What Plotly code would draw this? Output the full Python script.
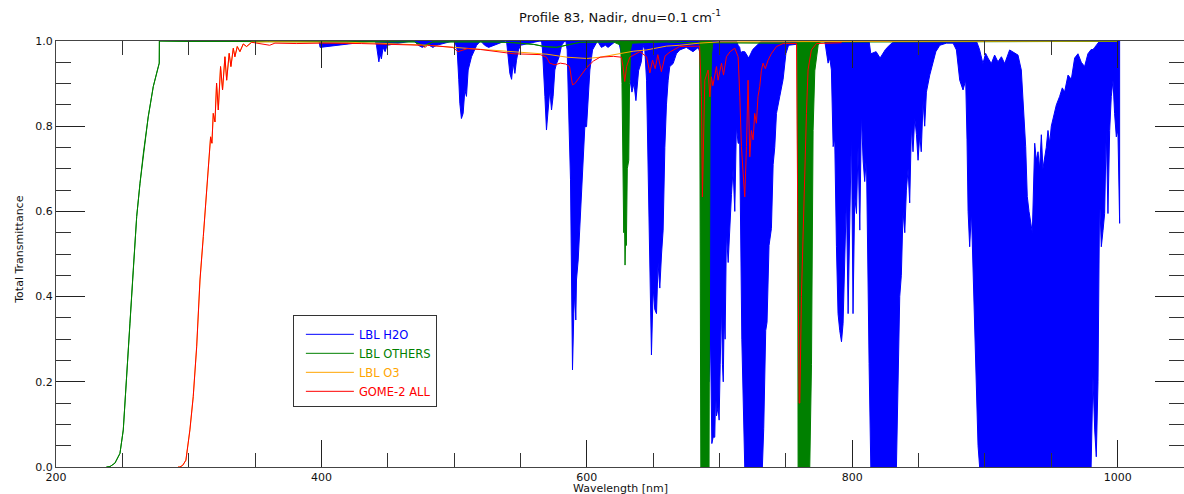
import plotly.graph_objects as go

# ---------------- data ----------------
# LBL H2O : dense line spectrum given as lower / upper envelope of transmittance
h2o_wl = [385, 397.5, 398.2, 399, 439, 440.5, 441.5, 442.5, 443.3, 444.2, 445.2, 446.5, 448, 449.5,
          468, 470, 473, 476, 480, 484, 487, 499, 500.5, 502.3, 503.5, 504.3, 505.5, 506.8, 508.1,
          509.3, 510.6, 513.1, 515.6, 517, 520, 523, 526, 529, 538.5, 539.5, 540.7, 542, 543.3,
          544.5, 545.8, 547, 548.5, 550, 564.5, 565.9, 566.6, 567.6, 568.4, 569.6, 570.9, 572.1,
          573.4, 574.6, 575.9, 577.2, 579.2, 581, 583.5, 584.2, 585.2, 586, 586.7, 587.7, 588.5,
          589.2, 590.2, 591, 591.7, 592.2, 593.5, 594.7, 596, 597.2, 598.5, 599.8, 601, 602.3,
          604.3, 606, 608, 611, 614, 616, 622, 624, 626, 628, 630, 632, 634, 635.5, 637, 639, 641,
          642.4, 643.7, 645, 646.2, 647, 647.8, 648.7, 650, 651.2, 652.5, 653.7, 655, 656.3, 657.5,
          658.8, 660, 661.3, 662.5, 665, 667.5, 670, 675, 680, 684, 685.5, 686.5, 689, 692, 693.2,
          694.2, 695.2, 696.4, 697.1, 697.7, 698.9, 699.7, 700.5, 701.5, 702.2, 702.8, 703.5, 704.2,
          705.2, 706.5, 707.7, 709, 710.2, 711.5, 712.7, 714, 715.2, 716, 716.8, 719, 722, 725, 728,
          731.6, 732.3, 733.3, 734.8, 735.8, 737.3, 739.1, 740.4, 741.6, 742.9, 745.4, 747.9, 750,
          752, 778, 779.3, 781.8, 783.1, 784.3, 785.6, 786.8, 788.1, 789.3, 790.6, 791.9, 793.1,
          794.4, 795.6, 796.9, 798.1, 799.4, 800.6, 801.9, 803.2, 804.4, 805.7, 806.9, 808.2, 809.4,
          810.7, 812, 812.7, 814, 818, 821, 825, 828, 832, 833.3, 834.5, 835.8, 837, 838.3, 839.6,
          840.8, 842.1, 843.3, 844.6, 845.8, 847.1, 848.4, 849.6, 850.9, 852, 853.4, 854.6, 855.9,
          858.4, 860.9, 863, 866, 871, 876, 878.5, 881, 883.5, 885.5, 886.5, 887.3, 888.5, 889.8,
          891, 892.3, 893.5, 894.8, 896, 898.5, 900.5, 902.3, 904.8, 907.3, 909.8, 912.4, 914.9,
          918.6, 922.4, 924.9, 927.4, 929.2, 930.7, 931.9, 933.2, 935.7, 937.5, 938.7, 940, 941.2,
          942.5, 943.7, 946.2, 947.5, 948.8, 950, 951.3, 953.8, 956.3, 958.3, 960, 962.6, 965.1,
          967.6, 970.1, 972.6, 975.1, 977.6, 980, 981.4, 982.7, 983.9, 985.2, 986.4, 987.7, 989,
          990.2, 991.4, 992.7, 994, 995.2, 996.5, 997.7, 999, 1000.2, 1001.5]
h2o_lo = [1, 1, 0.985, 1, 1, 0.99, 0.975, 0.951, 0.97, 0.958, 0.985, 0.975, 0.99, 1,
          1, 0.99, 0.985, 0.992, 0.985, 0.99, 1, 1, 0.979, 0.909, 0.854, 0.818, 0.83, 0.885, 0.87,
          0.932, 0.963, 0.979, 0.99, 1, 0.99, 0.985, 0.99, 1, 1, 0.96, 0.924, 0.91, 0.947,
          0.924, 0.955, 0.979, 0.99, 1, 1, 0.979, 0.924, 0.87, 0.791, 0.83, 0.885, 0.838,
          0.87, 0.932, 0.947, 0.963, 0.99, 1, 1, 0.979, 0.869, 0.791, 0.674, 0.478, 0.228,
          0.361, 0.416, 0.345, 0.439, 0.486, 0.556, 0.635, 0.713, 0.799, 0.799, 0.869, 0.932, 0.979,
          0.99, 1, 0.985, 0.99, 0.985, 1, 1, 0.97, 0.93, 0.9, 0.92, 0.88, 0.9, 0.86, 0.93, 0.95, 0.99,
          0.979, 0.908, 0.75, 0.55, 0.42, 0.263, 0.42, 0.37, 0.36, 0.478, 0.42, 0.5, 0.556, 0.75,
          0.85, 0.908, 0.94, 0.947, 0.97, 0.979, 0.985, 0.975, 0.985, 0.97, 0.5, 0.3, 0.2, 0.3, 0.055,
          0.07, 0.07, 0.18, 0.12, 0.14, 0.11, 0.24, 0.38, 0.24, 0.2, 0.36, 0.3, 0.55,
          0.48, 0.55, 0.64, 0.7, 0.6, 0.8, 0.76, 0.76, 0.62, 0.3, 0.0, 0.0, 0.0, 0.0, 0.0,
          0.0, 0.09, 0.32, 0.34, 0.52, 0.56, 0.71, 0.75, 0.83, 0.87, 0.91, 0.97, 0.99,
          1, 1, 0.948, 0.96, 0.932, 0.752, 0.77, 0.517, 0.36, 0.32, 0.294, 0.337, 0.478,
          0.635, 0.36, 0.556, 0.791, 0.36, 0.635, 0.595, 0.752, 0.556, 0.83, 0.72, 0.67, 0.73,
          0.423, 0.243, 0.0, 0.0, 0.0, 0.0, 0.0, 0.0, 0.0, 0.165, 0.4, 0.45, 0.6, 0.55, 0.65,
          0.7, 0.62, 0.8, 0.74, 0.82, 0.78, 0.72, 0.78, 0.74, 0.86, 0.8, 0.88, 0.92,
          0.95, 0.975, 0.99, 0.995, 0.995, 0.979, 0.908, 0.885, 0.908, 0.768, 0.6, 0.517, 0.6, 0.45,
          0.32, 0.2, 0.05, 0.0, 0.0, 0.0, 0.0, 0.0, 0.0, 0.0, 0.0, 0.0, 0.0,
          0.0, 0.0, 0.0, 0.0, 0.0, 0.0, 0.0, 0.0, 0.0, 0.0, 0.0, 0.0, 0.0,
          0.0, 0.0, 0.0, 0.0, 0.0, 0.0, 0.0, 0.0, 0.0, 0.0, 0.0, 0.0,
          0.0, 0.0, 0.0, 0.0, 0.0, 0.0, 0.212, 0.087, 0.024, 0.2, 0.635, 0.517, 0.556,
          0.595, 0.791, 0.595, 0.79, 0.87, 0.908, 0.83, 0.775, 0.79, 0.572]
h2o_hi = [1, 1, 1, 1, 1, 1, 1, 1, 1, 1, 1, 1, 1, 1,
          1, 1, 1, 1, 1, 1, 1, 1, 1, 1, 1, 1, 1, 1, 1,
          1, 1, 1, 1, 1, 1, 1, 1, 1, 1, 1, 1, 1, 1,
          1, 1, 1, 1, 1, 1, 1, 1, 1, 1, 1, 1, 1,
          1, 1, 1, 1, 1, 1, 1, 1, 1, 1, 1, 1, 1,
          1, 1, 1, 1, 1, 1, 1, 1, 1, 1, 1, 1, 1,
          1, 1, 1, 1, 1, 1, 1, 1, 1, 1, 1, 1, 1, 1, 1, 1, 1,
          1, 1, 1, 1, 1, 1, 1, 1, 1, 1, 1, 1, 1, 1,
          1, 1, 1, 1, 1, 1, 1, 1, 1, 1, 1, 1, 1, 1, 1,
          1, 1, 1, 1, 1, 1, 1, 1, 1, 1, 1, 1, 1,
          1, 1, 1, 1, 1, 1, 1, 0.99, 0.985, 0.97, 0.975, 0.975, 0.96, 0.98, 0.99,
          1, 1, 1, 1, 1, 1, 1, 1, 1, 1, 1, 1, 1,
          1, 1, 1, 1, 1, 1, 1, 1, 1, 1, 1, 1, 1,
          1, 1, 1, 1, 1, 1, 1, 1, 1, 1, 1, 1, 1,
          1, 1, 1, 0.97, 0.975, 0.96, 0.98, 0.99, 1, 1, 1, 1, 1, 1, 1,
          1, 1, 1, 1, 1, 1, 1, 1, 1, 1, 1, 1, 1,
          1, 1, 1, 1, 1, 1, 1, 1, 1, 1, 1, 1, 1, 1,
          1, 1, 1, 0.99, 0.979, 0.947, 0.971, 0.96, 0.947, 0.967, 0.951, 0.963, 0.947,
          0.979, 0.971, 0.967, 0.932, 0.83, 0.752, 0.635, 0.6, 0.55, 0.76, 0.72, 0.74, 0.7,
          0.78, 0.7, 0.75, 0.79, 0.76, 0.8, 0.82, 0.85, 0.87, 0.89, 0.88, 0.92, 0.91,
          0.96, 0.97, 0.95, 0.94, 0.97, 0.98, 0.98, 0.985, 0.99, 0.995, 1, 1, 1,
          1, 1, 1, 1, 1, 1, 1, 1, 1, 1]

# LBL OTHERS (O2, O4, ...): envelope as well (a plain line where lo == hi)
oth_wl = [238, 240.7, 244.4, 248.2, 250.7, 253.3, 255.7, 258.2, 260.8, 263.3, 265.8, 269.5,
          273.3, 277.1, 277.8, 277.9, 300, 470, 474, 477.3, 480, 484, 530, 545, 560, 568, 577,
          585, 595, 620, 625.5, 626.5, 627, 627.8, 628.3, 628.8, 629.3, 629.8, 630.5, 631.6, 632.2,
          633, 634, 660, 685, 685.5, 685.9, 692.1, 692.8, 694, 695, 758.5, 758.9, 759.2, 768,
          769.3, 770, 770.5, 771.8, 774.3, 776, 1000]
oth_lo = [0, 0.001, 0.009, 0.032, 0.087, 0.204, 0.337, 0.462, 0.588, 0.666, 0.736, 0.822,
          0.893, 0.94, 0.948, 1.0, 0.999, 0.998, 0.993, 0.988, 0.993, 0.998, 0.998, 0.996, 0.992, 0.987, 0.985,
          0.99, 0.997, 0.998, 0.99, 0.9, 0.72, 0.55, 0.6, 0.474, 0.55, 0.52, 0.7, 0.72, 0.9,
          0.98, 0.995, 0.998, 0.995, 0.9, 0.0, 0.0, 0.8, 0.97, 0.996, 0.995, 0.6, 0.0, 0.0,
          0.24, 0.56, 0.79, 0.93, 0.99, 0.998, 0.999]
oth_hi = [0, 0.001, 0.009, 0.032, 0.087, 0.204, 0.337, 0.462, 0.588, 0.666, 0.736, 0.822,
          0.893, 0.94, 0.948, 1.0, 0.999, 0.998, 0.993, 0.988, 0.993, 0.998, 0.998, 0.996, 0.992, 0.987, 0.985,
          0.99, 0.997, 0.998, 1, 1, 1, 1, 1, 1, 1, 1, 1, 1, 1,
          1, 0.999, 0.998, 0.995, 1, 1, 1, 1, 1, 0.996, 0.995, 1, 1, 1,
          1, 1, 1, 1, 1, 0.998, 0.999]

# LBL O3
o3_wl = [292, 293.4, 295.5, 297.9, 300.9, 303.4, 306.0, 308.5, 311.0, 313.0, 314.7, 316.5,
         317.5, 318.5, 319.8, 321.0, 322.3, 324.0, 325.5, 327.3, 328.6, 330.5, 331.8, 333.6,
         334.8, 336.6, 338.6, 341.1, 343.6, 347.4, 360, 380, 420, 450, 480, 500, 520, 545, 570,
         585, 600, 610, 620, 635, 645, 660, 670, 685, 700, 750, 800, 1000]
o3_t = [0, 0.0, 0.004, 0.016, 0.087, 0.165, 0.282, 0.439, 0.541, 0.619, 0.697, 0.775,
        0.76, 0.83, 0.81, 0.901, 0.838, 0.94, 0.885, 0.963, 0.908, 0.971, 0.94, 0.983,
        0.963, 0.987, 0.975, 0.993, 0.987, 0.997, 0.998, 0.998, 0.997, 0.994, 0.99, 0.985, 0.98,
        0.975, 0.969, 0.962, 0.959, 0.962, 0.968, 0.976, 0.979, 0.988, 0.99, 0.995, 0.998,
        0.999, 0.999, 1.0]

# GOME-2 ALL
gome_wl = [292, 293.4, 295.5, 297.9, 300.9, 303.4, 306.0, 308.5, 311.0, 313.0, 314.7, 316.5,
           317.5, 318.5, 319.8, 321.0, 322.3, 324.0, 325.5, 327.3, 328.6, 330.5, 331.8, 333.6,
           334.8, 336.6, 338.6, 341.1, 343.6, 347.4, 361, 365, 381, 400, 430, 444, 470, 476, 478,
           480, 499, 503, 506, 510, 520, 532, 540, 545, 565, 569.6, 572, 576, 580, 584, 587, 589.2,
           591, 594.7, 600, 605, 610, 620, 626, 627.3, 628.6, 630, 632.4, 640, 645, 647.5, 649.5,
           651.5, 653.5, 656.2, 659, 663, 670, 685, 686.4, 687.1, 688.1, 688.9, 691.4, 692.7, 693.9,
           695, 697.7, 698.9, 701.5, 703, 705.2, 708, 711.5, 714, 715.3, 716.5, 717.8, 719, 720.3,
           721.5, 722.8, 724, 725.3, 726.5, 727.8, 729, 730.3, 731.5, 732.8, 734.5, 736.6, 739,
           742.9, 747.9, 758, 758.4, 759.2, 760, 760.5, 761.7, 763, 764.2, 765.5, 766.7, 769.2,
           773, 792]
gome_t = [0, 0.0, 0.004, 0.016, 0.087, 0.165, 0.282, 0.439, 0.541, 0.619, 0.697, 0.775,
          0.76, 0.83, 0.81, 0.901, 0.838, 0.94, 0.885, 0.963, 0.908, 0.971, 0.94, 0.983,
          0.963, 0.987, 0.975, 0.993, 0.987, 0.997, 0.99, 0.995, 0.994, 0.995, 0.994, 0.993, 0.992, 0.99, 0.985,
          0.99, 0.985, 0.975, 0.978, 0.982, 0.98, 0.975, 0.972, 0.97, 0.968, 0.962, 0.948, 0.944, 0.948, 0.946, 0.94, 0.897,
          0.9, 0.915, 0.938, 0.953, 0.962, 0.964, 0.962, 0.94, 0.905, 0.94, 0.962, 0.975, 0.963, 0.925, 0.955,
          0.935, 0.968, 0.928, 0.965, 0.975, 0.987, 0.988, 0.869, 0.634, 0.791, 0.908, 0.932, 0.869, 0.916,
          0.895, 0.94, 0.908, 0.948, 0.92, 0.963, 0.975, 0.983, 0.963, 0.869, 0.752, 0.689, 0.634, 0.752,
          0.908, 0.728, 0.79, 0.768, 0.83, 0.807, 0.87, 0.893, 0.93, 0.948, 0.935, 0.955, 0.97,
          0.987, 0.994, 0.994, 0.752, 0.478, 0.15, 0.15, 0.4, 0.556, 0.713, 0.83, 0.932, 0.979,
          0.994, 0.996]

series_names = ["LBL H2O", "LBL OTHERS", "LBL O3", "GOME-2 ALL"]
series_colors = ["#0000ff", "#008000", "#ffa500", "#ff0000"]

x_ticks = [200, 400, 600, 800, 1000]
y_ticks = [0.0, 0.2, 0.4, 0.6, 0.8, 1.0]

# ---------------- figure ----------------
fig = go.Figure()


def label(i):
    return '<span style="color:%s">%s</span>' % (series_colors[i], series_names[i])


# legend entries for the two envelope-drawn series
for i in (0, 1):
    fig.add_trace(go.Scatter(x=[None], y=[None], mode="lines", name=label(i),
                             line=dict(color=series_colors[i], width=1)))

# envelopes (dense line spectra)
for wl, lo, hi, i in ((h2o_wl, h2o_lo, h2o_hi, 0), (oth_wl, oth_lo, oth_hi, 1)):
    fig.add_trace(go.Scatter(x=wl + wl[::-1], y=hi + lo[::-1], mode="lines", fill="toself",
                             fillcolor=series_colors[i],
                             line=dict(color=series_colors[i], width=1),
                             showlegend=False, hoverinfo="skip"))

fig.add_trace(go.Scatter(x=o3_wl, y=o3_t, mode="lines", name=label(2),
                         line=dict(color=series_colors[2], width=1)))
fig.add_trace(go.Scatter(x=gome_wl, y=gome_t, mode="lines", name=label(3),
                         line=dict(color=series_colors[3], width=1)))

axis_common = dict(showgrid=False, zeroline=False, showline=True, linecolor="#444",
                   linewidth=1, mirror="ticks", ticks="inside", tickwidth=1,
                   tickcolor="#222", tickfont=dict(size=11, color="#111"))

fig.update_layout(
    width=1184, height=494, autosize=False,
    margin=dict(l=56, r=0, t=41, b=27),
    paper_bgcolor="white", plot_bgcolor="white",
    font=dict(family="DejaVu Sans", size=11, color="#111"),
    title=dict(text="Profile 83, Nadir, dnu=0.1 cm<sup>-1</sup>", x=0.5, xref="paper",
               xanchor="center", y=1 - 17 / 494, yref="container", yanchor="middle",
               font=dict(size=13, color="#111")),
    legend=dict(x=0.21, y=0.357, xanchor="left", yanchor="top", bordercolor="#333",
                borderwidth=1, bgcolor="white", font=dict(size=11.5), itemwidth=48,
                indentation=7, tracegroupgap=0,
                title=dict(text=" ", font=dict(size=3))),
    xaxis=dict(range=[200, 1050], tickvals=x_ticks, ticktext=[str(v) for v in x_ticks],
               ticklen=27,
               minor=dict(ticks="inside", ticklen=14, dtick=50, tick0=200, tickcolor="#333",
                          showgrid=False),
               **axis_common),
    yaxis=dict(range=[0, 1], tickvals=y_ticks, ticktext=["%.1f" % v for v in y_ticks],
               ticklen=29,
               minor=dict(ticks="inside", ticklen=15, dtick=0.05, tick0=0, tickcolor="#333",
                          showgrid=False),
               **axis_common),
    annotations=[
        dict(text="Wavelength [nm]", xref="paper", yref="paper", x=0.5, y=-21 / 426,
             xanchor="center", yanchor="middle", showarrow=False, font=dict(size=11)),
        dict(text="Total Transmittance", xref="paper", yref="paper", x=-36 / 1128, y=0.51,
             xanchor="center", yanchor="middle", textangle=-90, showarrow=False,
             font=dict(size=11)),
    ],
)

fig.write_html("out.html")
